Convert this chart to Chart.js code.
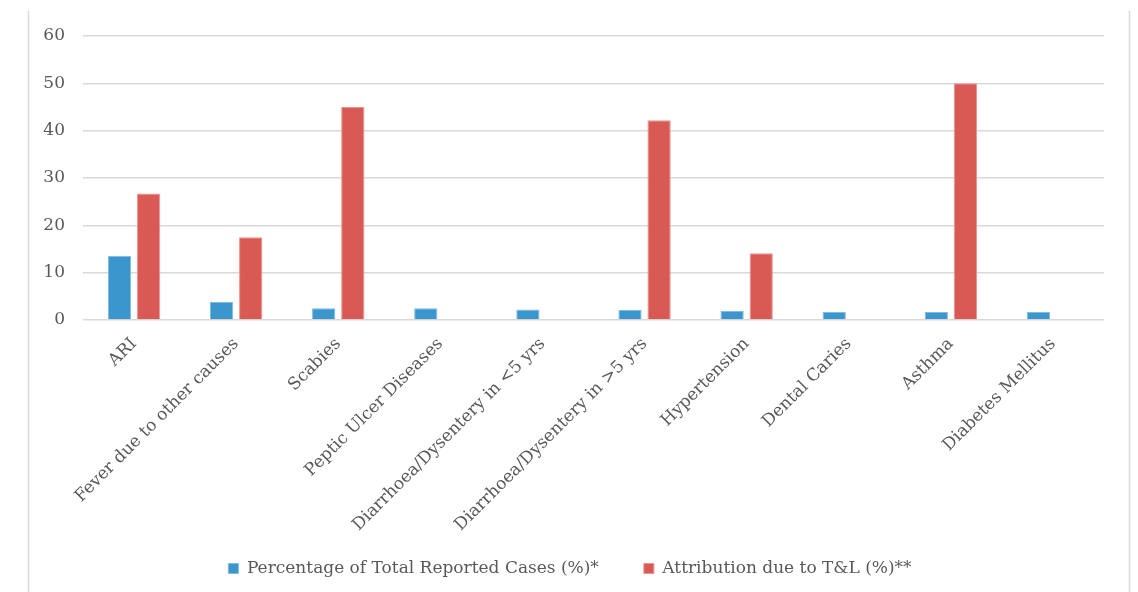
<!DOCTYPE html>
<html lang="en">
<head>
  <meta charset="UTF-8" />
  <title>Cases and T&amp;L attribution</title>
  <script src="https://cdn.jsdelivr.net/npm/chart.js"></script>
  <style>
    html, body { margin: 0; padding: 0; background: #fff; }
    .box { width: 1138px; height: 592px; position: relative; }
  </style>
</head>
<body>
  <div class="box">
    <canvas id="grafico"></canvas>
  </div>

  <script>
    // dados
    const categorias = [
      'ARI', 'Fever due to other causes', 'Scabies', 'Peptic Ulcer Diseases',
      'Diarrhoea/Dysentery in <5 yrs', 'Diarrhoea/Dysentery in >5 yrs',
      'Hypertension', 'Dental Caries', 'Asthma', 'Diabetes Mellitus'
    ];
    const casosPct = [13.6, 3.8, 2.5, 2.5, 2.2, 2.1, 1.9, 1.7, 1.7, 1.7];
    const atribuicaoTL = [26.7, 17.5, 45, null, null, 42.2, 14.1, null, 50, null];
    const yTicks = [0, 10, 20, 30, 40, 50, 60];

    const corTexto = '#595959';
    const fonte = "'DejaVu Serif', 'Liberation Serif', serif";

    // moldura cinza dos lados
    const moldura = {
      id: 'moldura',
      beforeDraw(chart) {
        const c = chart.ctx;
        c.save();
        c.strokeStyle = '#d9d9d9';
        c.lineWidth = 1.5;
        c.beginPath();
        c.moveTo(28.5, 11);
        c.lineTo(28.5, chart.height);
        c.moveTo(1129.5, 11);
        c.lineTo(1129.5, chart.height);
        c.stroke();
        c.restore();
      }
    };

    const ctx = document.getElementById('grafico').getContext('2d');
    const grafico = new Chart(ctx, {
      type: 'bar',
      data: {
        labels: categorias,
        datasets: [
          {
            label: 'Percentage of Total Reported Cases (%)*',
            data: casosPct,
            backgroundColor: '#3a96cc',
            borderColor: '#7fbbe0',
            borderWidth: 1,
            categoryPercentage: 0.57,
            barPercentage: 0.8
          },
          {
            label: 'Attribution due to T&L (%)**',
            data: atribuicaoTL,
            backgroundColor: '#d95a54',
            borderColor: '#e89590',
            borderWidth: 1,
            categoryPercentage: 0.57,
            barPercentage: 0.8
          }
        ]
      },
      options: {
        responsive: true,
        maintainAspectRatio: false,
        animation: false,
        layout: {
          padding: { top: 36, left: 36, right: 34, bottom: 5 }
        },
        plugins: {
          legend: {
            position: 'bottom',
            labels: {
              boxWidth: 10,
              boxHeight: 10,
              padding: 45,
              color: corTexto,
              font: { family: fonte, size: 17 }
            }
          },
          tooltip: { enabled: false }
        },
        scales: {
          x: {
            grid: { display: false },
            border: { display: false },
            ticks: {
              autoSkip: false,
              maxRotation: 45,
              minRotation: 45,
              padding: 6,
              color: corTexto,
              font: { family: fonte, size: 17 }
            },
            afterFit(scale) {
              scale.height = 195;
              // os rotulos longos passam da area do eixo, sem corte
              scale._computeLabelArea = () => undefined;
            }
          },
          y: {
            min: 0,
            max: 60,
            afterBuildTicks(scale) {
              scale.ticks = yTicks.map(v => ({ value: v }));
            },
            grid: { color: '#d9d9d9', lineWidth: 1.5, drawTicks: false },
            border: { display: false },
            ticks: {
              padding: 18,
              color: corTexto,
              font: { family: fonte, size: 17 }
            },
            afterFit(scale) { scale.width = 47; }
          }
        }
      },
      plugins: [moldura]
    });
  </script>
</body>
</html>
